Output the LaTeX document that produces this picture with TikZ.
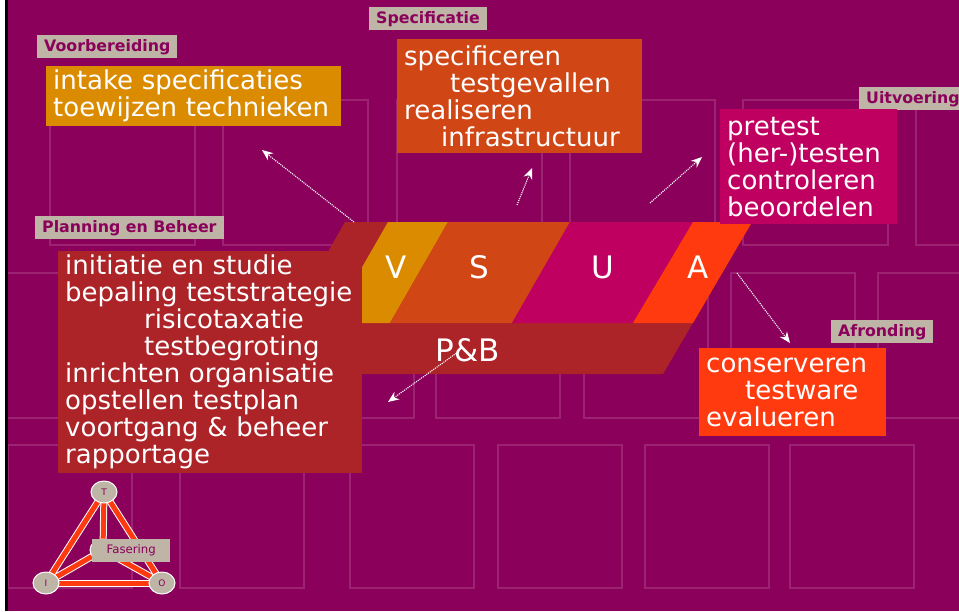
\documentclass[tikz,border=0pt]{standalone}
\usepackage{fontspec}
\setmainfont{DejaVu Sans}
\usetikzlibrary{arrows.meta,shapes.geometric}

\definecolor{bgpaars}{HTML}{8A005A}
\definecolor{raster}{HTML}{9C2272}
\definecolor{tagbeige}{HTML}{BFB5A6}
\definecolor{vgeel}{HTML}{DB8B00}
\definecolor{soranje}{HTML}{D04615}
\definecolor{umagenta}{HTML}{BF0060}
\definecolor{arood}{HTML}{FF3A0F}
\definecolor{pbrood}{HTML}{AC2428}

\begin{document}
\begin{tikzpicture}[x=1pt,y=-1pt,
  rasterbox/.style={draw=raster, line width=1.2pt},
  fasetag/.style={anchor=north west, fill=tagbeige, text=bgpaars, inner xsep=7pt, inner ysep=0pt,
    minimum height=23pt, font=\fontsize{15.8}{16}\selectfont\bfseries},
  fasebox/.style={anchor=north west, text=white, align=left, inner xsep=7pt, inner ysep=2pt,
    font=\fontsize{26}{27}\selectfont},
  letter/.style={text=white, font=\fontsize{31}{31}\selectfont},
  pijl/.style={white, densely dotted, line width=1.1pt, -{Stealth[length=11pt,width=9pt]}},
  hoek/.style={ellipse, draw=white, line width=1pt, fill=tagbeige, text=bgpaars, inner sep=0pt,
    minimum width=26pt, minimum height=22pt, font=\fontsize{9}{9}\selectfont}]
\useasboundingbox (0,0) rectangle (959,611);

% achtergrond
\fill[bgpaars] (0,0) rectangle (959,611);

% raster van vlakken
\foreach \x in {50,223,397,570,743,916}
    \draw[rasterbox] (\x,100) rectangle ++(145,145);
\foreach \x in {-4,143,290,436,584,731,878}
    \draw[rasterbox] (\x,273) rectangle ++(124,145);
\foreach \x in {8,180,350,498,645,790}
    \draw[rasterbox] (\x,445) rectangle ++(124,143);

% rand links
\fill[white] (0,0) rectangle (5,611);
\fill[black] (5,0) rectangle (8,611);

% fasenband
\fill[pbrood] (345,222) -- (752,222) -- (663,374) -- (258,374) -- cycle;
\fill[vgeel] (388,222) -- (448,222) -- (390,323) -- (330,323) -- cycle;
\fill[soranje] (448,222) -- (570,222) -- (512,323) -- (390,323) -- cycle;
\fill[umagenta] (570,222) -- (693,222) -- (633,323) -- (512,323) -- cycle;
\fill[arood] (693,222) -- (752,222) -- (693,323) -- (633,323) -- cycle;

\node[letter] (v) at (396,267) {V};
\node[letter] (s) at (479,267) {S};
\node[letter] (u) at (603,267) {U};
\node[letter] (a) at (698,267) {A};
\node[letter] (pb) at (468,350) {P\&B};

% fasenamen
\node[fasetag] (voorb) at (37,35) {Voorbereiding};
\node[fasetag] (spec) at (369,7) {Specificatie};
\node[fasetag] (uitv) at (859,87) {Uitvoering};
\node[fasetag] (plan) at (35,216) {Planning en Beheer};
\node[fasetag] (afr) at (831,320) {Afronding};

% activiteiten
\node[fasebox, fill=vgeel, text width=281pt, minimum height=60pt] (voorbbox) at (46,66)
    {intake specificaties\\toewijzen technieken};
\node[fasebox, fill=soranje, text width=231pt, minimum height=114pt] (specbox) at (397,39)
    {specificeren\\\hspace*{46pt}testgevallen\\realiseren\\\hspace*{37pt}infrastructuur};
\node[fasebox, fill=umagenta, text width=163pt, minimum height=115pt] (uitvbox) at (720,109)
    {pretest\\(her-)testen\\controleren\\beoordelen};
\node[fasebox, fill=arood, text width=173pt, minimum height=88pt] (afrbox) at (699,348)
    {conserveren\\\hspace*{39pt}testware\\evalueren};
\node[fasebox, fill=pbrood, text width=290pt, minimum height=222pt] (planbox) at (58,251)
    {initiatie en studie\\bepaling teststrategie\\\hspace*{79pt}risicotaxatie\\
     \hspace*{79pt}testbegroting\\inrichten organisatie\\opstellen testplan\\
     voortgang \& beheer\\rapportage};

% pijlen
\coordinate (vstart) at (354,222);
\coordinate (vend) at (262,150);
\coordinate (sstart) at (517,205);
\coordinate (send) at (532,168);
\coordinate (ustart) at (650,203);
\coordinate (uend) at (702,157);
\coordinate (astart) at (737,273);
\coordinate (aend) at (790,343);
\coordinate (pbstart) at (458,352);
\coordinate (pbend) at (388,402);
\foreach \p in {v,s,u,a,pb}
    \draw[pijl] (\p start) -- (\p end);

% fasering
\coordinate (tc) at (104,492);
\coordinate (ic) at (46,583);
\coordinate (oc) at (162,583);
\coordinate (mc) at (103,550);
\foreach \a/\b in {tc/ic,tc/oc,ic/oc,tc/mc,ic/mc,oc/mc}
    \draw[white, line width=7pt] (\a) -- (\b);
\foreach \a/\b in {tc/ic,tc/oc,ic/oc,tc/mc,ic/mc,oc/mc}
    \draw[arood, line width=5pt] (\a) -- (\b);
\node[hoek] (t) at (tc) {T};
\node[hoek] (i) at (ic) {I};
\node[hoek] (o) at (oc) {O};
\node[hoek] (m) at (mc) {};
\node[anchor=north west, fill=tagbeige, text=bgpaars, inner sep=0pt, minimum width=78pt,
    minimum height=23pt, font=\fontsize{11.7}{12}\selectfont] (fas) at (92,539) {Fasering};
\end{tikzpicture}
\end{document}
